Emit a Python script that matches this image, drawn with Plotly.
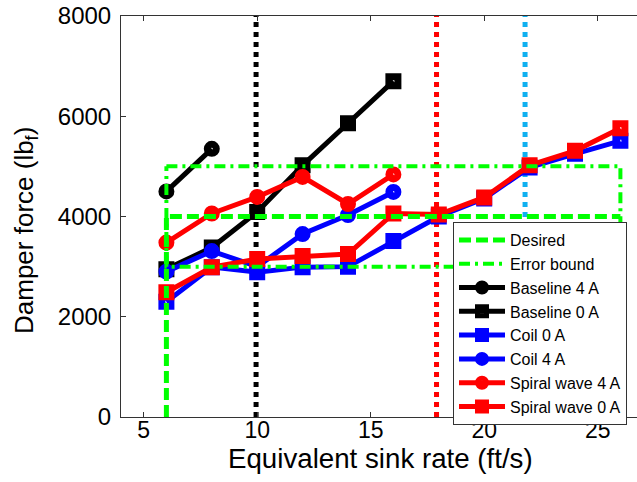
import plotly.graph_objects as go

# ---- data ----
sink_baseline_4a = [6, 8]
force_baseline_4a = [4500, 5350]

sink_short = [6, 8, 10, 12, 14, 16]
force_baseline_0a = [2950, 3380, 4090, 5020, 5860, 6700]
force_coil_4a = [2900, 3310, 3000, 3650, 4030, 4490]
force_spiral_4a = [3480, 4060, 4390, 4790, 4250, 4840]

sink_long = [6, 8, 10, 12, 14, 16, 18, 20, 22, 24, 26]
force_coil_0a = [2300, 2990, 2890, 2990, 3000, 3510, 4000, 4360, 4980, 5250, 5510]
force_spiral_0a = [2490, 2990, 3150, 3210, 3250, 4060, 4040, 4380, 5020, 5310, 5760]

desired_x = [6, 6, 26]
desired_y = [0, 4000, 4000]
bound_x = [6, 26, 26, 6, 6]
bound_y = [5000, 5000, 3000, 3000, 5000]

ref_lines_x = [9.95, 17.9, 21.8]
ref_lines_color = ["#000000", "#ff0000", "#10b0f0"]

x_title = "Equivalent sink rate (ft/s)"
y_title = "Damper force (lb<sub>f</sub>)"

FONT = "Arial, Liberation Sans, sans-serif"

fig = go.Figure()

# reference vertical dotted lines (drawn underneath)
for xv, col in zip(ref_lines_x, ref_lines_color):
    fig.add_trace(go.Scatter(x=[xv, xv], y=[0, 8000], mode="lines",
                             line=dict(color=col, width=5, dash="5px,5px"),
                             showlegend=False, hoverinfo="skip"))

def series(name, x, y, color, symbol, rank):
    fig.add_trace(go.Scatter(
        x=x, y=y, name=name, mode="lines+markers",
        line=dict(color=color, width=5),
        marker=dict(symbol=symbol, size=9, color=color,
                    line=dict(color=color, width=7)),
        legendrank=rank))

series("Baseline 4 A", sink_baseline_4a, force_baseline_4a, "#000000", "circle-open", 3)
series("Baseline 0 A", sink_short, force_baseline_0a, "#000000", "square-open", 4)
series("Coil 0 A", sink_long, force_coil_0a, "#0000ff", "square-open", 5)
series("Coil 4 A", sink_short, force_coil_4a, "#0000ff", "circle-open", 6)
series("Spiral wave 4 A", sink_short, force_spiral_4a, "#ff0000", "circle-open", 7)
series("Spiral wave 0 A", sink_long, force_spiral_0a, "#ff0000", "square-open", 8)

fig.add_trace(go.Scatter(x=desired_x, y=desired_y, name="Desired", mode="lines",
                         line=dict(color="#00ff00", width=5, dash="12px,5px"),
                         legendrank=1))
fig.add_trace(go.Scatter(x=bound_x, y=bound_y, name="Error bound", mode="lines",
                         line=dict(color="#00ff00", width=4, dash="11px,5px,3px,5px"),
                         legendrank=2))

fig.update_layout(
    width=637, height=482,
    margin=dict(l=121, r=0, t=16, b=65),
    paper_bgcolor="white", plot_bgcolor="white",
    font=dict(family=FONT, color="#000000"),
    showlegend=True,
    legend=dict(x=(453 - 121) / 516, xanchor="left",
                y=(417 - 222) / 401, yanchor="top",
                bgcolor="white", bordercolor="#333333", borderwidth=1,
                font=dict(size=16, family=FONT),
                itemwidth=46, traceorder="normal"),
    xaxis=dict(range=[4, 4 + 516 / 22.7], tickvals=[5, 10, 15, 20, 25],
               showgrid=False, zeroline=False,
               showline=True, linecolor="#333333", linewidth=1, mirror="ticks",
               ticks="inside", ticklen=5, tickcolor="#333333",
               tickfont=dict(size=23), ticklabelstandoff=-8),
    yaxis=dict(range=[0, 8000], tickvals=[0, 2000, 4000, 6000, 8000],
               showgrid=False, zeroline=False,
               showline=True, linecolor="#333333", linewidth=1,
               ticks="inside", ticklen=5, tickcolor="#333333",
               tickfont=dict(size=24), ticklabelstandoff=4),
    annotations=[
        dict(text=x_title, xref="paper", yref="paper",
             x=(380 - 121) / 516, y=(417 - 458) / 401,
             xanchor="center", yanchor="middle", showarrow=False,
             font=dict(size=27.7, family=FONT)),
        dict(text=y_title, xref="paper", yref="paper",
             x=(25 - 121) / 516, y=(417 - 231) / 401, textangle=-90,
             xanchor="center", yanchor="middle", showarrow=False,
             font=dict(size=26, family=FONT)),
    ],
)

fig.write_html("out.html", config={"displayModeBar": False},
               post_script="document.body.style.margin='0';document.body.style.padding='0';"
                           "document.body.style.overflow='hidden';")
